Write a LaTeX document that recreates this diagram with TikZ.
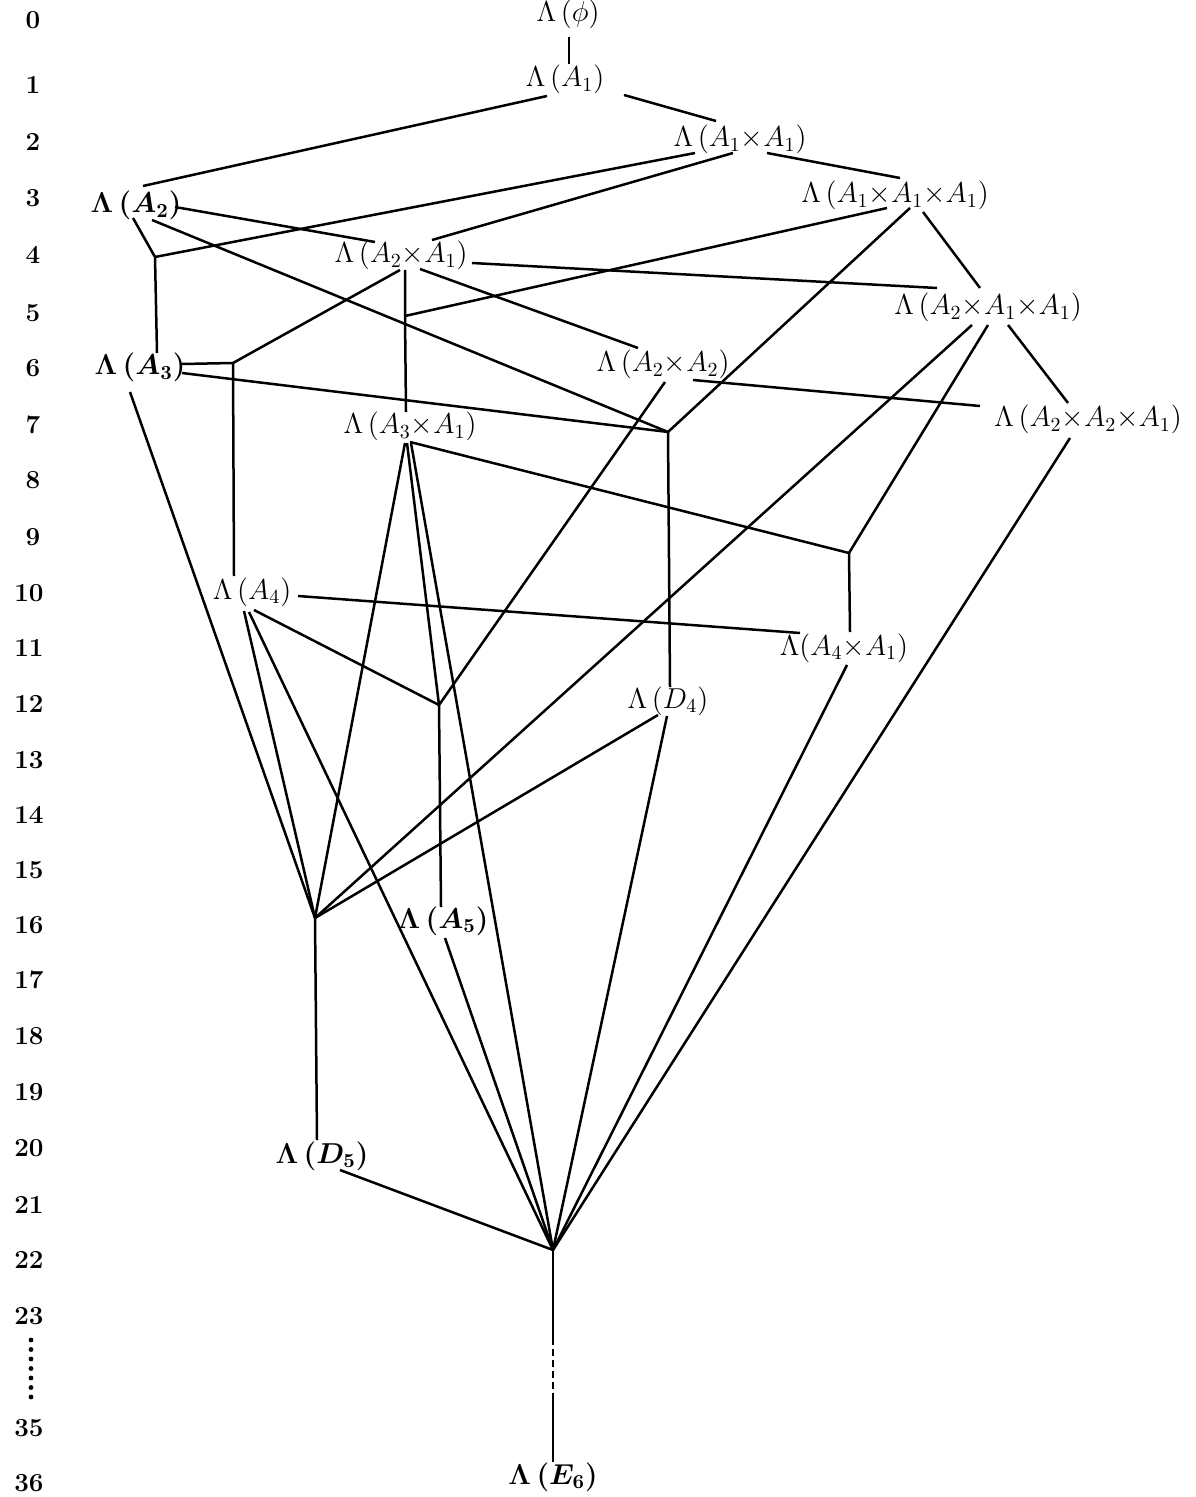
\documentclass[tikz,border=0pt]{standalone}
\usetikzlibrary{calc}
\begin{document}
\tikzset{
  lbl/.style={anchor=base, inner sep=0pt, font=\fontsize{14}{16}\selectfont},
  lblb/.style={anchor=base, inner sep=0pt, font=\fontsize{14}{16}\selectfont\boldmath},
  num/.style={anchor=center, inner sep=0pt, font=\fontsize{13}{15}\selectfont\bfseries},
  edge/.style={line width=1.25pt, line join=round},
  dashedge/.style={line width=1.35pt, dash pattern=on 3.5pt off 2pt},
}
\begin{tikzpicture}[x=0.5pt,y=-0.5pt]
\useasboundingbox (0,0) rectangle (1195,1497);

% level numbers
\foreach \n/\y in {0/20,1/85,2/142,3/198,4/255,5/313,6/368,7/425,8/480,9/537}
  \node[num] (r\n) at (33,\y) {\n};
\foreach \n/\y in {10/593,11/648,12/704,13/760,14/815,15/870,16/925,17/980,18/1036,19/1092,20/1148,21/1205,22/1260,23/1316,35/1428,36/1483}
  \node[num] (r\n) at (29,\y) {\n};
\foreach \k in {0,...,6}
  \fill (31,1340+9.5*\k) circle (1.2pt);

% labels
\node[lbl] (phi)    at (568,22)   {$\Lambda\,(\phi)$};
\node[lbl] (a1)     at (565,87)   {$\Lambda\,(A_1)$};
\node[lbl] (a1a1)   at (740,147)  {$\Lambda\,(A_1{\times}A_1)$};
\node[lbl] (a1a1a1) at (895,203)  {$\Lambda\,(A_1{\times}A_1{\times}A_1)$};
\node[lblb] (a2)    at (136,213)  {$\Lambda\,(A_2)$};
\node[lbl] (a2a1)   at (401,263)  {$\Lambda\,(A_2{\times}A_1)$};
\node[lbl] (a2a1a1) at (988,315)  {$\Lambda\,(A_2{\times}A_1{\times}A_1)$};
\node[lblb] (a3)    at (140,375)  {$\Lambda\,(A_3)$};
\node[lbl] (a2a2)   at (663,372)  {$\Lambda\,(A_2{\times}A_2)$};
\node[lbl] (a2a2a1) at (1088,427) {$\Lambda\,(A_2{\times}A_2{\times}A_1)$};
\node[lbl] (a3a1)   at (410,434)  {$\Lambda\,(A_3{\times}A_1)$};
\node[lbl] (a4)     at (252,599)  {$\Lambda\,(A_4)$};
\node[lbl] (a4a1)   at (844,655)  {$\Lambda(A_4{\times}A_1)$};
\node[lbl] (d4)     at (668,708)  {$\Lambda\,(D_4)$};
\node[lblb] (a5)    at (443,928)  {$\Lambda\,(A_5)$};
\node[lblb] (d5)    at (322,1163) {$\Lambda\,(D_5)$};
\node[lblb] (e6)    at (553,1484) {$\Lambda\,(E_6)$};

% junctions
\coordinate (j4)  at (155,257);
\coordinate (j5)  at (405,316);
\coordinate (j6)  at (233,363);
\coordinate (j7)  at (668,432);
\coordinate (j9)  at (849,553);
\coordinate (j12) at (439,705);
\coordinate (j16) at (315,918);
\coordinate (j22) at (553,1250);
\coordinate (m1)  at (553,1338);
\coordinate (m2)  at (553,1400);

% connectors
\draw[edge] ($(phi.base)+(1,15)$) -- ($(a1.base)+(4,-23)$);
\draw[edge] ($(a1.base)+(-18,9)$) -- ($(a2.base)+(7,-27)$);
\draw[edge] ($(a1.base)+(59,8)$) -- ($(a1a1.base)+(-24,-26)$);
\draw[edge] ($(a1a1.base)+(-45,6)$) -- (j4);
\draw[edge] ($(a1a1.base)+(-7,6)$) -- ($(a2a1.base)+(31,-23)$);
\draw[edge] ($(a1a1.base)+(27,6)$) -- ($(a1a1a1.base)+(5,-25)$);
\draw[edge] ($(a2.base)+(-3,5)$) -- (j4) -- ($(a3.base)+(17,-22)$);
\draw[edge] ($(a2.base)+(39,-6)$) -- ($(a2a1.base)+(-26,-21)$);
\draw[edge] ($(a2.base)+(16,7)$) -- (j7);
\draw[edge] ($(a2a1.base)+(-1,7)$) -- (j6);
\draw[edge] ($(a2a1.base)+(4,7)$) -- (j5) -- ($(a3a1.base)+(-4,-22)$);
\draw[edge] (j5) -- ($(a1a1a1.base)+(-8,5)$);
\draw[edge] ($(a2a1.base)+(71,0)$) -- ($(a2a1a1.base)+(-51,-27)$);
\draw[edge] ($(a2a1.base)+(19,6)$) -- ($(a2a2.base)+(-25,-24)$);
\draw[edge] ($(a1a1a1.base)+(15,5)$) -- (j7);
\draw[edge] ($(a1a1a1.base)+(28,9)$) -- ($(a2a1a1.base)+(-8,-27)$);
\draw[edge] ($(a2a1a1.base)+(20,10)$) -- ($(a2a2a1.base)+(-20,-24)$);
\draw[edge] ($(a2a1a1.base)+(-16,10)$) -- (j16);
\draw[edge] ($(a2a1a1.base)+(0,10)$) -- (j9);
\draw[edge] ($(a2a2.base)+(2,10)$) -- (j12);
\draw[edge] ($(a2a2.base)+(30,8)$) -- ($(a2a2a1.base)+(-108,-21)$);
\draw[edge] ($(a3.base)+(42,-11)$) -- (j6) -- ($(a4.base)+(-18,-23)$);
\draw[edge] ($(a3.base)+(42,-2)$) -- (j7) -- ($(d4.base)+(2,-21)$);
\draw[edge] ($(a3.base)+(-10,17)$) -- (j16);
\draw[edge] ($(a3a1.base)+(0,8)$) -- (j9) -- ($(a4a1.base)+(6,-23)$);
\draw[edge] ($(a3a1.base)+(-5,9)$) -- (j16);
\draw[edge] ($(a3a1.base)+(-3,9)$) -- (j12) -- ($(a5.base)+(-2,-21)$);
\draw[edge] ($(a3a1.base)+(1,9)$) -- (j22);
\draw[edge] ($(a2a2a1.base)+(-18,11)$) -- (j22);
\draw[edge] ($(a4.base)+(46,-3)$) -- ($(a4a1.base)+(-44,-22)$);
\draw[edge] ($(a4.base)+(2,11)$) -- (j12);
\draw[edge] ($(a4.base)+(-8,12)$) -- (j16);
\draw[edge] ($(a4.base)+(-3,13)$) -- (j22);
\draw[edge] ($(a5.base)+(2,10)$) -- (j22);
\draw[edge] ($(d4.base)+(-10,7)$) -- (j16);
\draw[edge] ($(d4.base)+(-1,8)$) -- (j22);
\draw[edge] ($(a4a1.base)+(3,10)$) -- (j22);
\draw[edge] (j16) -- ($(d5.base)+(-5,-23)$);
\draw[edge] ($(d5.base)+(18,7)$) -- (j22);
\draw[edge] (j22) -- (m1);
\draw[dashedge] (m1) -- (m2);
\draw[edge] (m2) -- ($(e6.base)+(0,-22)$);
\end{tikzpicture}
\end{document}
